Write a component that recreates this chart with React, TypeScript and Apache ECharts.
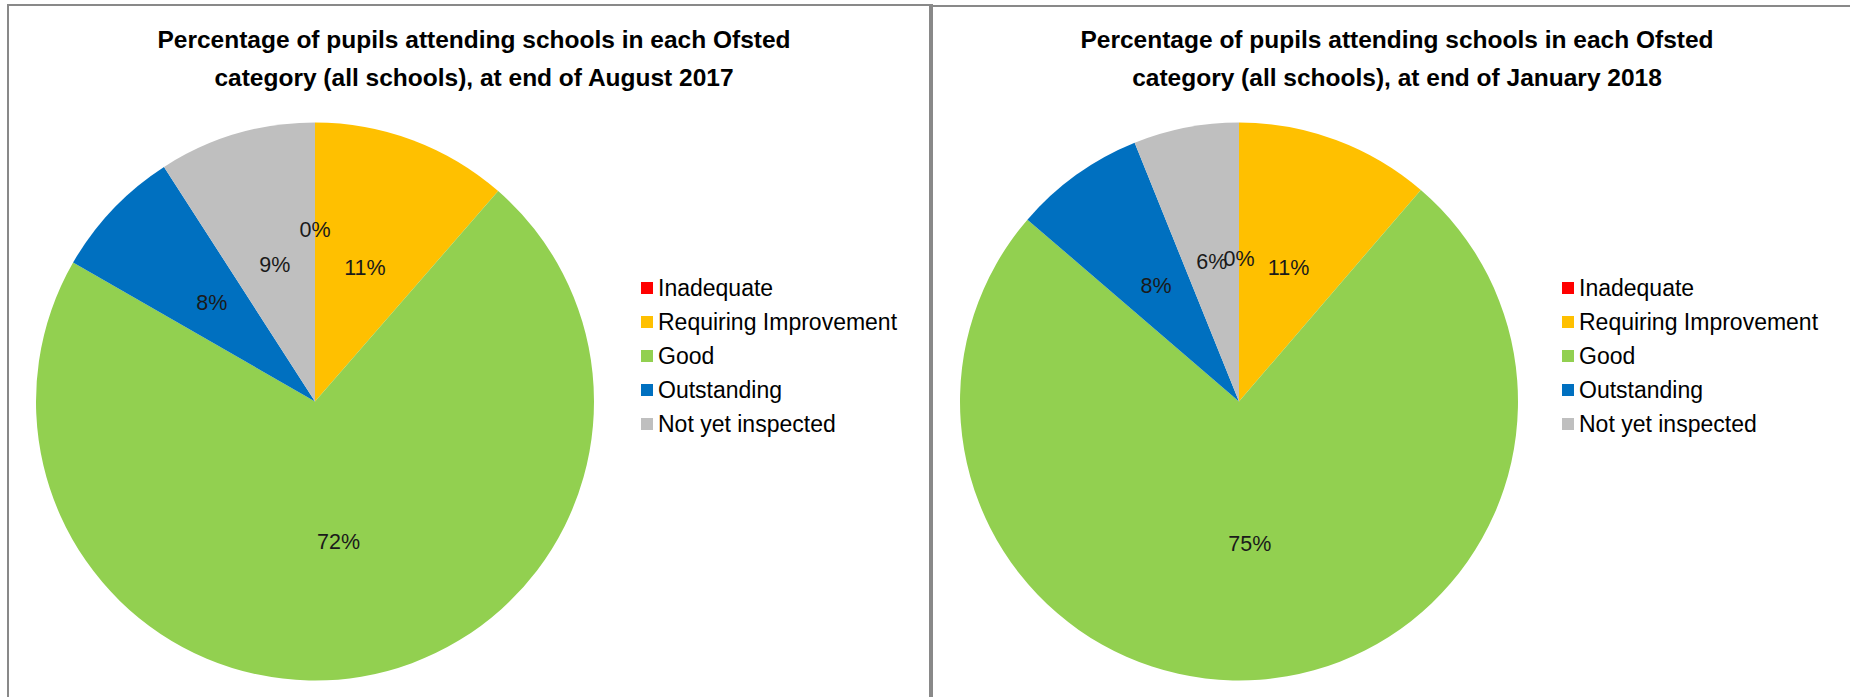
import React, { useEffect, useRef } from "react";
import * as echarts from "echarts";

const categories = ["Inadequate", "Requiring Improvement", "Good", "Outstanding", "Not yet inspected"];
const colors = ["#FF0000", "#FFC000", "#92D050", "#0070C0", "#BFBFBF"];
const aug2017Values = [0, 11.4, 71.9, 7.6, 9.1];
const jan2018Values = [0, 11.3, 75.0, 7.6, 6.1];
const titles = [
  "Percentage of pupils attending schools in each Ofsted\ncategory (all schools), at end of August 2017",
  "Percentage of pupils attending schools in each Ofsted\ncategory (all schools), at end of January 2018",
];

const FONT = "'Liberation Sans', Arial, sans-serif";

export default function App() {
  const ref = useRef<HTMLDivElement>(null);
  useEffect(() => {
    document.body.style.margin = "0";
    if (!ref.current) return;
    const chart = echarts.init(ref.current, null, { renderer: "svg" });
    const panels = [
      { values: aug2017Values, cx: 315, titleX: 469, legendX: 636, zeroDy: -29 },
      { values: jan2018Values, cx: 1239, titleX: 1392, legendX: 1557, zeroDy: 0 },
    ];
    const border = "#898989";
    chart.setOption({
      animation: false,
      backgroundColor: "#fff",
      color: colors,
      title: panels.map((p, i) => ({
        text: titles[i],
        left: p.titleX,
        top: 15,
        textAlign: "center",
        textStyle: { fontFamily: FONT, fontWeight: "bold", fontSize: 24.5, lineHeight: 38, color: "#000" },
      })),
      legend: panels.map((p) => ({
        orient: "vertical",
        left: p.legendX,
        top: 271,
        icon: "rect",
        itemWidth: 12,
        itemHeight: 12,
        itemGap: 10,
        selectedMode: false,
        data: categories,
        textStyle: { fontFamily: FONT, fontSize: 23, lineHeight: 24, color: "#000" },
      })),
      graphic: [
        { type: "line", shape: { x1: 8, y1: 4, x2: 8, y2: 697 }, style: { stroke: border, lineWidth: 2 } },
        { type: "line", shape: { x1: 7, y1: 5, x2: 931, y2: 5 }, style: { stroke: border, lineWidth: 2 } },
        { type: "line", shape: { x1: 931, y1: 4, x2: 931, y2: 697 }, style: { stroke: border, lineWidth: 4 } },
        { type: "line", shape: { x1: 931, y1: 6, x2: 1850, y2: 6 }, style: { stroke: border, lineWidth: 2 } },
      ],
      series: panels.map((p) => ({
        type: "pie",
        center: [p.cx, 401.5],
        radius: 279,
        startAngle: 90,
        clockwise: true,
        avoidLabelOverlap: false,
        labelLayout: { hideOverlap: false },
        emphasis: { disabled: true },
        itemStyle: { borderWidth: 0 },
        label: {
          show: true,
          position: "inside",
          fontFamily: FONT,
          fontSize: 21.5,
          color: "#1a1a1a",
          formatter: (d: any) => Math.round(d.value) + "%",
        },
        labelLine: { show: false },
        data: categories.map((name, i) => ({
          name,
          value: p.values[i],
          label: i === 0 ? { offset: [0, p.zeroDy] } : undefined,
        })),
      })),
    });
    return () => chart.dispose();
  }, []);
  return <div ref={ref} style={{ width: 1850, height: 697 }} />;
}
